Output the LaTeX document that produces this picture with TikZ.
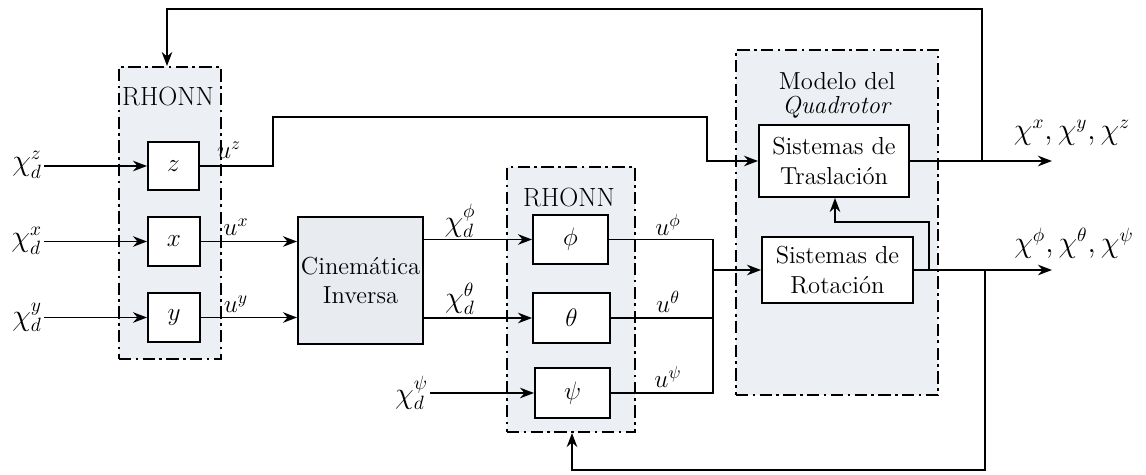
\documentclass[tikz,border=0pt]{standalone}
\usetikzlibrary{arrows.meta,fit}
\definecolor{grpfill}{RGB}{236,239,243}
\definecolor{cinfill}{RGB}{232,235,239}
\tikzset{
  grp/.style={draw, line width=1.1pt, dash pattern=on 7pt off 2.5pt on 1.5pt off 2.5pt, fill=grpfill, inner sep=0pt},
  blk/.style={draw, line width=1.1pt, fill=white, inner sep=0pt, align=center},
  sz/.style 2 args={minimum width=#1*0.02cm, minimum height=#2*0.02cm},
  wire/.style={line width=1.1pt},
  arr/.style={wire, -{Stealth[length=8pt,width=6pt]}},
  lbl/.style={inner sep=1pt},
  big/.style={inner sep=1pt, font=\fontsize{16}{19}\selectfont},
}
\begin{document}
\begin{tikzpicture}[x=0.02cm,y=-0.02cm, font=\fontsize{14}{17}\selectfont]
\useasboundingbox (0,0) rectangle (1146,474);

% groups
\node[grp, fit={(119,67)(221,359)}] (rh1) {};
\node[grp, fit={(507,167)(635,432)}] (rh2) {};
\node[grp, fit={(736,50)(938,395)}] (mod) {};
\node[lbl, font=\fontsize{15}{18}\selectfont] (rh1lbl) at (168,96) {RHONN};
\node[lbl, font=\fontsize{15}{18}\selectfont] (rh2lbl) at (569,197) {RHONN};
\node[lbl] (modlbl1) at (837,81) {Modelo del};
\node[lbl] (modlbl2) at (837,107) {\textit{Quadrotor}};

% blocks
\node[blk, sz={51}{48}] (bz) at (173.5,166) {$z$};
\node[blk, sz={52}{49}] (bx) at (174,241.5) {$x$};
\node[blk, sz={52}{49}] (by) at (174,317.5) {$y$};
\node[blk, fill=cinfill, sz={125}{127}] (cin) at (360.5,280.5) {Cinemática\\Inversa};
\node[blk, sz={75}{49}] (bphi) at (570.5,239.5) {$\phi$};
\node[blk, sz={77}{50}] (bth) at (571.5,318) {$\theta$};
\node[blk, sz={75}{50}] (bpsi) at (572.5,393) {$\psi$};
\node[blk, sz={150}{72}] (tras) at (834,161) {Sistemas de\\Traslación};
\node[blk, sz={151}{66}] (rot) at (837.5,270) {Sistemas de\\Rotación};

% inputs
\node[big, anchor=east] (iz) at (44,165) {$\chi_d^z$};
\node[big, anchor=east] (ix) at (44,241) {$\chi_d^x$};
\node[big, anchor=east] (iy) at (44,317) {$\chi_d^y$};
\node[big, anchor=east] (ipsi) at (430,393) {$\chi_d^\psi$};
\draw[arr] (iz.east |- bz) -- (bz.west);
\draw[arr] (ix.east |- bx) -- (bx.west);
\draw[arr] (iy.east |- by) -- (by.west);
\draw[arr] (ipsi.east |- bpsi) -- (bpsi.west);

% first RHONN outputs
\coordinate (c1) at (273,117);
\coordinate (c2) at (707,117);
\draw[arr] (bz.east) -| (c1) -- (c2) |- (tras.west);
\draw[arr] (bx.east) -- (bx.east -| cin.west);
\draw[arr] (by.east) -- (by.east -| cin.west);
\node[lbl] (luz) at (229,150) {$u^z$};
\node[lbl] (lux) at (236,227) {$u^x$};
\node[lbl] (luy) at (236,304) {$u^y$};

% cinematica outputs
\draw[arr] (cin.east |- bphi) -- (bphi.west);
\draw[arr] (cin.east |- bth) -- (bth.west);
\node[big] (lphi) at (460,221) {$\chi_d^\phi$};
\node[big] (lth) at (460,299) {$\chi_d^\theta$};

% second RHONN outputs
\coordinate (jx) at (713,270);
\draw[wire] (bphi.east) -- (bphi.east -| jx) -- (bpsi.east -| jx) -- (bpsi.east);
\draw[wire] (bth.east) -- (bth.east -| jx);
\draw[arr] (jx) -- (jx -| rot.west);
\node[lbl] (luphi) at (668,225) {$u^\phi$};
\node[lbl] (luth) at (668,302) {$u^\theta$};
\node[lbl] (lupsi) at (668,377) {$u^\psi$};

% model outputs
\coordinate (ox) at (1052,161);
\draw[arr, line width=1.6pt] (tras.east) -- (tras.east -| ox);
\draw[arr] (rot.east) -- (rot.east -| ox);
\node[big] (lox) at (1072,133) {$\chi^x, \chi^y, \chi^z$};
\node[big] (lor) at (1074,243) {$\chi^\phi, \chi^\theta, \chi^\psi$};

% feedback loops
\coordinate (tf1) at (982,9);
\coordinate (tf2) at (167,9);
\draw[arr] (tras.east -| tf1) -- (tf1) -- (tf2) -- (tf2 |- rh1.north);
\coordinate (bf1) at (985,470);
\coordinate (bf2) at (572,470);
\draw[arr] (rot.east -| bf1) -- (bf1) -- (bf2) -- (bf2 |- rh2.south);
\coordinate (if1) at (929,222);
\coordinate (if2) at (835,222);
\draw[arr] (rot.east -| if1) -- (if1) -- (if2) -- (if2 |- tras.south);
\end{tikzpicture}
\end{document}
